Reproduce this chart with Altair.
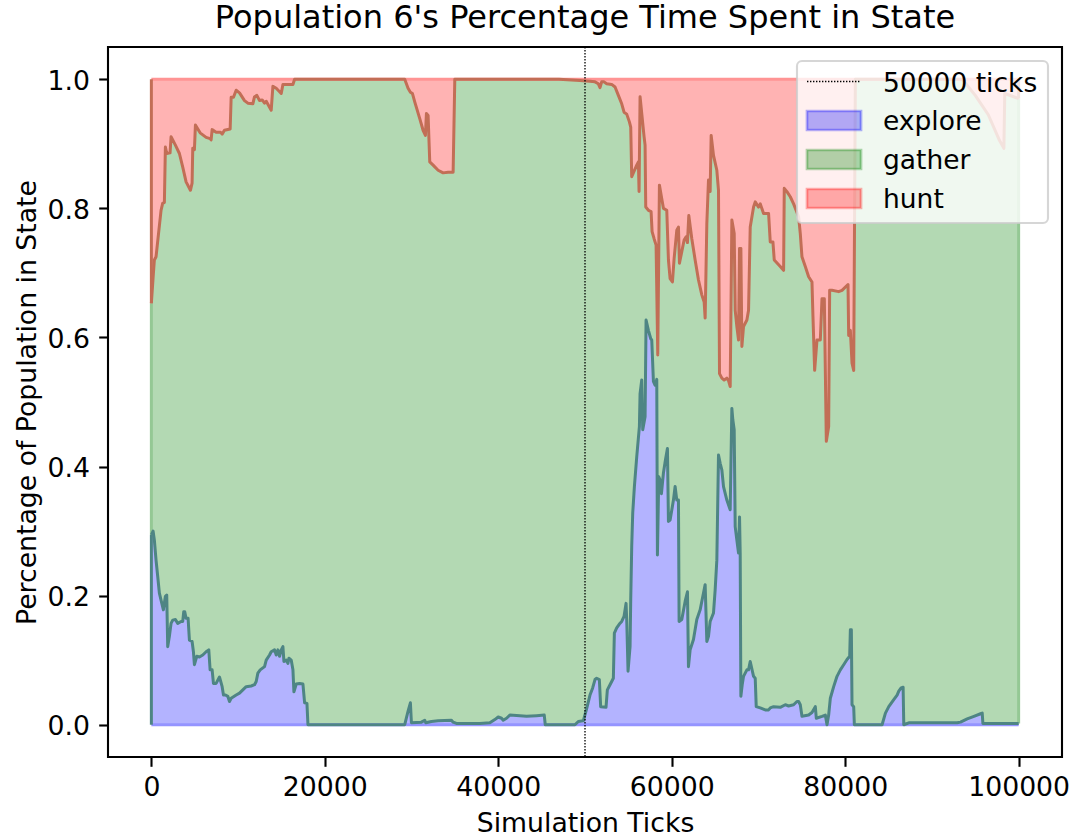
import altair as alt
import pandas as pd

# ---------------- data ----------------
title_text = "Population 6's Percentage Time Spent in State"
x_title = "Simulation Ticks"
y_title = "Percentage of Population in State"
states = ["explore", "gather", "hunt"]
marker_tick = 50000
marker_label = "50000 ticks"
x_ticks = [0, 20000, 40000, 60000, 80000, 100000]
y_ticks = [0.0, 0.2, 0.4, 0.6, 0.8, 1.0]

# share of the population exploring (top of the blue band)
explore_ticks = [
    0, 200, 346, 539, 731, 924, 1116, 1386, 1617, 1771, 1886, 2079, 2271, 2464, 2772, 3041,
    3426, 3618, 3734, 3849, 4003, 4234, 4388, 4696, 4850, 4965, 5235, 5543, 5928, 6313, 6621,
    6775, 7006, 7160, 7468, 7853, 8161, 8315, 8546, 8815, 9008, 9200, 9778, 10163, 10548,
    10933, 11510, 11895, 12088, 12280, 12550, 13050, 13243, 13628, 13820, 14205, 14398,
    14590, 14783, 14975, 15168, 15284, 15553, 15745, 15861, 16130, 16323, 16438, 16707,
    17092, 17477, 17670, 17939, 18055,
    29214, 29599, 29868, 29984, 31139, 31523, 31639, 32293, 33063, 34602, 34795, 35180,
    37874, 39029, 39606, 39991, 40376, 40569, 40953, 41338, 42493, 43262, 44417, 45302,
    45418, 48843, 49228, 49806, 50191, 50576, 50884, 51153, 51346, 51654,
    51807, 52423, 52577, 52885, 53270, 53386, 53655, 53963, 54233, 54502, 54733, 54810,
    54964, 55195, 55272, 55387, 55503, 55695, 55964, 56272, 56349, 56542, 56657, 56927,
    57042, 57312, 57581, 57697, 57889, 58081, 58274, 58351, 58505, 58659, 58813, 59043,
    59274, 59505, 59621, 59813, 60198, 60391, 60583, 60775, 60852, 61160, 61545, 61814,
    61929, 62122, 62507, 62892, 63277, 63662, 63854, 64047, 64239, 64431, 64816, 65008,
    65201, 65393, 65586, 65778, 65971, 66355, 66740, 66933, 67048, 67202, 67318, 67510,
    67703, 67818, 67895, 67972, 68126, 68280, 68665, 68857, 69050, 69435, 69627, 69743,
    70205, 70782, 71167, 71360, 71745, 72515, 73092, 73477, 74054, 74439, 74632, 74824,
    75017, 75786, 76171, 76556, 76672, 77326, 77711, 77903, 78095, 78288, 78673, 79058,
    79442, 79827, 80212, 80520, 80597, 80712, 80789, 80981, 81058,
    84255, 84640, 85025, 85602, 85987, 86180, 86449, 86680, 86757, 87334, 92915, 93300,
    94070, 94840, 95609, 95802, 95879, 100000,
]
explore_share = [
    0.294, 0.300, 0.286, 0.255, 0.230, 0.204, 0.193, 0.178, 0.199, 0.201, 0.121, 0.137, 0.157,
    0.162, 0.163, 0.157, 0.160, 0.160, 0.175, 0.175, 0.165, 0.165, 0.131, 0.129, 0.113, 0.093,
    0.106, 0.105, 0.108, 0.113, 0.116, 0.085, 0.085, 0.064, 0.064, 0.074, 0.059, 0.046, 0.046,
    0.044, 0.036, 0.041, 0.046, 0.049, 0.054, 0.059, 0.060, 0.062, 0.067, 0.080, 0.085, 0.090,
    0.100, 0.108, 0.113, 0.116, 0.108, 0.116, 0.106, 0.116, 0.121, 0.098, 0.100, 0.095, 0.103,
    0.100, 0.085, 0.051, 0.063, 0.064, 0.063, 0.034, 0.033, 0.0,
    0.0, 0.021, 0.034, 0.003, 0.004, 0.007, 0.003, 0.005, 0.006, 0.007, 0.004, 0.002,
    0.002, 0.003, 0.008, 0.012, 0.010, 0.007, 0.010, 0.015, 0.014, 0.013, 0.014, 0.015,
    0.0, 0.0, 0.005, 0.006, 0.025, 0.046, 0.057, 0.070, 0.072, 0.070,
    0.028, 0.027, 0.054, 0.062, 0.072, 0.142, 0.150, 0.156, 0.160, 0.168, 0.188, 0.163,
    0.083, 0.121, 0.194, 0.276, 0.328, 0.369, 0.415, 0.462, 0.513, 0.534, 0.457, 0.477,
    0.627, 0.611, 0.598, 0.596, 0.532, 0.526, 0.535, 0.263, 0.384, 0.379, 0.358, 0.390,
    0.410, 0.428, 0.315, 0.317, 0.348, 0.369, 0.348, 0.348, 0.160, 0.163, 0.191, 0.206,
    0.090, 0.116, 0.132, 0.163, 0.178, 0.204, 0.217, 0.129, 0.137, 0.160, 0.173, 0.209,
    0.255, 0.418, 0.405, 0.395, 0.369, 0.348, 0.333, 0.490, 0.472, 0.457, 0.307, 0.286,
    0.266, 0.322, 0.266, 0.044, 0.062, 0.075, 0.085, 0.085, 0.098, 0.075, 0.072, 0.028,
    0.026, 0.023, 0.023, 0.026, 0.028, 0.027, 0.031, 0.029, 0.031, 0.036, 0.036, 0.031,
    0.013, 0.015, 0.019, 0.028, 0.010, 0.013, 0.015, 0.0, 0.015, 0.041, 0.059, 0.075,
    0.085, 0.093, 0.101, 0.106, 0.147, 0.147, 0.031, 0.028, 0.0,
    0.0, 0.018, 0.028, 0.039, 0.046, 0.052, 0.057, 0.058, 0.0, 0.003, 0.003, 0.004,
    0.009, 0.013, 0.017, 0.018, 0.002, 0.002,
]

# explore + gather share (where the red hunt band starts)
hunt_start_ticks = [
    0, 231, 346, 539, 1116, 1309, 1501, 1617, 1771, 2156, 2271, 2464, 2772, 3233, 3618, 4003,
    4503, 4696, 4773, 4965, 5081, 5620, 6313, 6775, 6890, 7006, 7468, 7968, 8161, 8430, 9085,
    9200, 9470, 9778, 10163, 10740, 11125, 11703, 11895, 12165, 12473, 12780, 13050, 13243,
    13820, 14013, 14398, 14975, 15168, 16323, 16515,
    29214, 29599, 29868, 30099, 30368, 30946, 31330, 31600, 31715, 31908, 32100, 32485,
    33062, 33640, 34217, 34794, 34987,
    47000, 49421, 50576, 51153, 51538, 51730, 51923, 52192, 52500, 53078, 53463, 53848,
    54233, 54502, 54810, 55118, 55272, 55387, 55964, 56157, 56234, 56349, 56542, 56811,
    56927, 57004, 57312, 57620, 57735, 57966, 58197, 58389, 58581, 58851, 59043, 59428,
    59621, 59813, 60083, 60275, 60583, 60775, 60891, 61160, 61429, 61660, 61814, 61968,
    62315, 62700, 63085, 63469, 63739, 63854, 64047, 64239, 64431, 64547, 64816, 65201,
    65393, 65509, 65778, 66047, 66355, 66548, 66742, 66934, 67204, 67319, 67511, 67704,
    67819, 67973, 68089, 68281, 68666, 68858, 69051, 69436, 69628, 70013, 70205, 70590,
    71168, 71360, 71668, 71822, 72515, 72900, 72977, 73285, 73669, 74054, 74632, 74824,
    75016, 75401, 75786, 76171, 76286, 76479, 76748, 77133, 77326, 77595, 77826, 78095,
    78210, 78480, 79250, 79634, 80327, 80404, 80596, 80789, 80981, 81173,
    93500, 95000, 96500, 97800, 98300, 98400, 100000,
]
hunt_start_share = [
    0.653, 0.699, 0.720, 0.725, 0.797, 0.808, 0.809, 0.895, 0.885, 0.886, 0.911, 0.906, 0.898,
    0.885, 0.864, 0.841, 0.828, 0.839, 0.893, 0.891, 0.929, 0.917, 0.910, 0.908, 0.906, 0.922,
    0.918, 0.918, 0.915, 0.921, 0.923, 0.972, 0.972, 0.983, 0.979, 0.967, 0.963, 0.962, 0.973,
    0.975, 0.967, 0.968, 0.963, 0.966, 0.952, 0.989, 0.986, 0.978, 0.992, 0.992, 1.0,
    1.0, 0.986, 0.980, 0.978, 0.965, 0.939, 0.921, 0.913, 0.947, 0.944, 0.872, 0.867,
    0.859, 0.855, 0.856, 0.856, 1.0,
    1.0, 0.998, 0.997, 0.996, 0.993, 0.987, 0.996, 0.996, 0.993, 0.992, 0.988, 0.975,
    0.962, 0.949, 0.946, 0.934, 0.926, 0.849, 0.867, 0.872, 0.826, 0.973, 0.947, 0.911,
    0.898, 0.802, 0.797, 0.795, 0.764, 0.753, 0.743, 0.573, 0.836, 0.815, 0.800, 0.797,
    0.720, 0.691, 0.686, 0.722, 0.766, 0.771, 0.715, 0.733, 0.751, 0.756, 0.747, 0.789,
    0.753, 0.720, 0.689, 0.666, 0.655, 0.630, 0.776, 0.844, 0.826, 0.913, 0.882, 0.859,
    0.828, 0.544, 0.537, 0.534, 0.537, 0.533, 0.524, 0.782, 0.761, 0.642, 0.617, 0.596,
    0.738, 0.738, 0.586, 0.617, 0.627, 0.642, 0.771, 0.802, 0.810, 0.802, 0.807, 0.792,
    0.792, 0.748, 0.748, 0.720, 0.710, 0.704, 0.831, 0.826, 0.818, 0.807, 0.787, 0.761,
    0.725, 0.710, 0.694, 0.686, 0.632, 0.549, 0.596, 0.596, 0.660, 0.660, 0.439, 0.462,
    0.673, 0.673, 0.671, 0.673, 0.682, 0.603, 0.611, 0.560, 0.549, 1.0,
    1.0, 0.975, 0.945, 0.905, 0.893, 0.978, 0.970,
]

# ---------------- styling ----------------
FONT = "DejaVu Sans"
FILL = {"explore": "#b3b3ff", "gather": "#b3d9b3", "hunt": "#ffb3b3"}
BASE = {"explore": "#0000ff", "gather": "#008000", "hunt": "#ff0000"}
EXPLORE_LINE = "#4e8584"
HUNT_LINE = "#c26e56"
LW = 3.0

xs = alt.Scale(domain=[-5000, 105000], nice=False, zero=False)
ys = alt.Scale(domain=[-0.05, 1.05], nice=False, zero=False)

explore_df = pd.DataFrame({"t": explore_ticks, "v": explore_share})
hunt_df = pd.DataFrame({"t": hunt_start_ticks, "v": hunt_start_share})
t_end = explore_ticks[-1]
frame_df = pd.DataFrame({"t": [0, t_end], "top": [1.0, 1.0], "bottom": [0.0, 0.0]})

x_axis = alt.Axis(
    values=x_ticks, format="d", title=x_title, grid=False, domain=False,
    tickColor="black", tickWidth=2.1, tickSize=9.3,
    labelFont=FONT, labelFontSize=26.7, labelColor="black",
    labelBaseline="alphabetic", labelPadding=29, labelFlush=False,
    titleFont=FONT, titleFontSize=26.7, titleFontWeight="normal", titleColor="black",
    titleX=477, titleY=74, titleBaseline="alphabetic", titleAlign="center",
)
y_axis = alt.Axis(
    values=y_ticks, format=".1f", title=y_title, grid=False, domain=False,
    tickColor="black", tickWidth=2.1, tickSize=9.3,
    labelFont=FONT, labelFontSize=26.7, labelColor="black",
    labelBaseline="alphabetic", labelOffset=10, labelPadding=9.3,
    titleFont=FONT, titleFontSize=26.7, titleFontWeight="normal", titleColor="black",
    titleX=-73, titleY=355, titleAngle=270, titleBaseline="alphabetic", titleAlign="center",
)


def X(field="t"):
    return alt.X(f"{field}:Q", scale=xs, axis=x_axis)


def Y(field):
    return alt.Y(f"{field}:Q", scale=ys, axis=y_axis)


hunt_area = alt.Chart(frame_df).mark_area(color=FILL["hunt"], opacity=1).encode(
    x=X(), y=Y("top"), y2="bottom:Q")
gather_area = alt.Chart(hunt_df).mark_area(color=FILL["gather"], opacity=1).encode(
    x=X(), y=Y("v"), y2=alt.datum(0))
explore_area = alt.Chart(explore_df).mark_area(color=FILL["explore"], opacity=1).encode(
    x=X(), y=Y("v"), y2=alt.datum(0))

top_line = alt.Chart(frame_df).mark_line(color="#ff9494", strokeWidth=LW).encode(
    x=X(), y=Y("top"))
bottom_line = alt.Chart(frame_df).mark_line(color="#9494ff", strokeWidth=LW).encode(
    x=X(), y=Y("bottom"))

edges_df = pd.DataFrame({
    "t": [0, 0, 0, t_end, t_end],
    "lo": [0.0, explore_share[0], hunt_start_share[0], explore_share[-1], hunt_start_share[-1]],
    "hi": [explore_share[0], hunt_start_share[0], 1.0, hunt_start_share[-1], 1.0],
    "c": [EXPLORE_LINE, "#94c894", HUNT_LINE, "#94c894", HUNT_LINE],
})
edges = alt.Chart(edges_df).mark_rule(strokeWidth=LW).encode(
    x=X(), y=Y("lo"), y2="hi:Q", color=alt.Color("c:N", scale=None))

hunt_line = alt.Chart(hunt_df).mark_line(color=HUNT_LINE, strokeWidth=LW, strokeJoin="round").encode(
    x=X(), y=Y("v"))
explore_line = alt.Chart(explore_df).mark_line(color=EXPLORE_LINE, strokeWidth=LW, strokeJoin="round").encode(
    x=X(), y=Y("v"))

marker = alt.Chart(pd.DataFrame({"t": [marker_tick]})).mark_rule(
    color="black", strokeWidth=1.3, strokeDash=[1.4, 1.6]
).encode(x=X())

# ---------------- legend (drawn in the plot's top-right corner) ----------------
one = pd.DataFrame({"k": [0]})
legend_layers = [
    alt.Chart(one).mark_rect(
        fill="white", fillOpacity=0.8, stroke="#cccccc", strokeOpacity=0.8,
        strokeWidth=2.1, cornerRadius=5,
    ).encode(x=alt.value(689), x2=alt.value(940), y=alt.value(14), y2=alt.value(176)),
    alt.Chart(one).mark_rule(color="black", strokeWidth=1.3, strokeDash=[1.4, 1.6]).encode(
        x=alt.value(699), x2=alt.value(753), y=alt.value(34.5)),
    alt.Chart(one).mark_text(
        text=marker_label, font=FONT, fontSize=26.5, align="left", baseline="alphabetic", color="black"
    ).encode(x=alt.value(775), y=alt.value(44.5)),
]
row_top = [64, 103, 142]
for s, top in zip(states, row_top):
    legend_layers.append(
        alt.Chart(one).mark_rect(
            fill=BASE[s], fillOpacity=0.3, stroke=BASE[s], strokeOpacity=0.3, strokeWidth=2.7
        ).encode(x=alt.value(699), x2=alt.value(753), y=alt.value(top), y2=alt.value(top + 19))
    )
    legend_layers.append(
        alt.Chart(one).mark_text(
            text=s, font=FONT, fontSize=26.5, align="left", baseline="alphabetic", color="black"
        ).encode(x=alt.value(775), y=alt.value(top + 19))
    )

chart = alt.layer(
    hunt_area, gather_area, explore_area,
    top_line, bottom_line, edges, hunt_line, explore_line, marker,
    *legend_layers,
).properties(
    width=954, height=710,
    title=alt.TitleParams(
        text=title_text, font=FONT, fontSize=32, fontWeight="normal", color="black",
        anchor="middle", frame="group", baseline="alphabetic", offset=-14,
    ),
    autosize=alt.AutoSizeParams(type="none"),
    padding={"left": 108, "top": 47, "right": 11, "bottom": 80},
).configure(
    background="white"
).configure_view(
    stroke="black", strokeWidth=2.1
)

chart.save("out.html", embed_options={"renderer": "svg", "actions": False})
